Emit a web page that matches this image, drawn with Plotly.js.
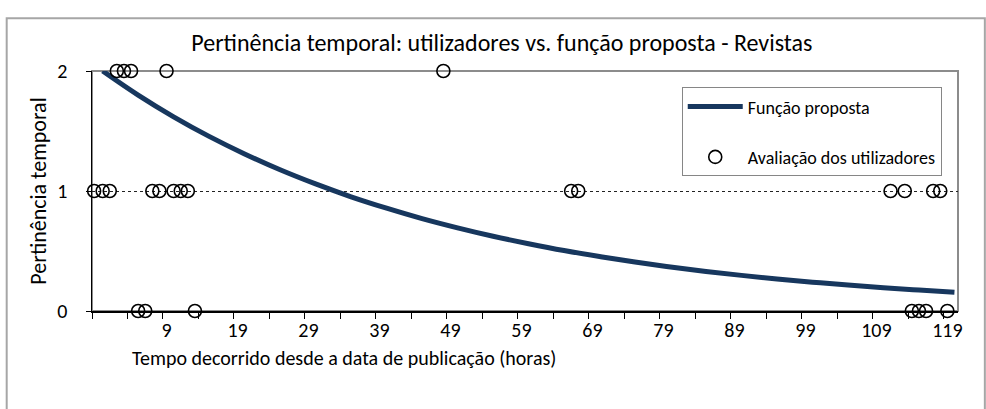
<!DOCTYPE html>
<html><head><meta charset="utf-8">
<script src="https://cdn.plot.ly/plotly-3.0.1.min.js"></script>
<style>html,body{margin:0;padding:0;background:#fff}#chart{width:986px;height:409px}</style>
</head><body><div id="chart"></div>
<script>
// Proposed function
const curveHours  = [0, 5, 10, 15, 20, 25, 30, 35, 40, 45, 50, 55, 60, 65, 70, 75, 80, 85, 90, 95, 100, 105, 110, 115, 120];
const curveValues = [2.000, 1.799, 1.618, 1.455, 1.309, 1.177, 1.059, 0.952, 0.857, 0.770, 0.693, 0.623, 0.561, 0.504, 0.454, 0.408, 0.367, 0.330, 0.297, 0.267, 0.240, 0.216, 0.194, 0.175, 0.157];

// User evaluations
const userHours   = [2, 3, 4, 9, 48,
                     -1.2, 0, 1, 7, 8, 10, 11, 12, 66, 67, 111, 113, 117, 118,
                     5, 6, 13, 114, 115, 116, 119];
const userRatings = [2, 2, 2, 2, 2,
                     1, 1, 1, 1, 1, 1, 1, 1, 1, 1, 1, 1, 1, 1,
                     0, 0, 0, 0, 0, 0, 0];

const xTickVals = [9, 19, 29, 39, 49, 59, 69, 79, 89, 99, 109, 119];
const xTickText = ['9', '19', '29', '39', '49', '59', '69', '79', '89', '99', '109', '119'];
const yTickVals = [0, 1, 2];

const seriesNames = ['Função proposta', 'Avaliação dos utilizadores'];
const chartTitle = 'Pertinência temporal: utilizadores vs. função proposta - Revistas';
const xTitle = 'Tempo decorrido desde a data de publicação (horas)';
const yTitle = 'Pertinência temporal';

const FONT = 'Carlito, Lato, "Noto Sans", sans-serif';

const traces = [
  {
    x: curveHours, y: curveValues, type: 'scatter', mode: 'lines',
    name: seriesNames[0], legendgroup: 'a',
    line: {color: '#17375E', width: 5, shape: 'spline'},
    cliponaxis: false
  },
  {
    x: userHours, y: userRatings, type: 'scatter', mode: 'markers',
    name: seriesNames[1], legendgroup: 'b',
    marker: {symbol: 'circle-open', size: 13, color: '#000', line: {width: 1.6, color: '#000'}},
    cliponaxis: false
  }
];

const layout = {
  width: 986, height: 409,
  margin: {l: 92, r: 28, t: 71, b: 98},
  paper_bgcolor: '#fff', plot_bgcolor: '#fff',
  font: {family: FONT, color: '#000', size: 18},
  title: {text: chartTitle, font: {family: FONT, size: 24, color: '#000'},
          x: 0.509, xref: 'container', xanchor: 'center', y: 0.897, yref: 'container', yanchor: 'middle'},
  xaxis: {
    range: [-1.5, 120.5], showgrid: false, zeroline: false,
    showline: true, linecolor: '#000', linewidth: 1.5,
    tickmode: 'array', tickvals: xTickVals, ticktext: xTickText, ticks: '', ticklen: 0,
    tickfont: {size: 20}, ticklabelstandoff: 0,
    minor: {tickmode: 'linear', tick0: -1.5, dtick: 5, ticks: 'outside', ticklen: 6, tickcolor: '#000', tickwidth: 1, showgrid: false}
  },
  yaxis: {
    range: [0, 2], zeroline: false,
    showline: true, linecolor: '#000', linewidth: 1.5,
    tickmode: 'array', tickvals: yTickVals, ticks: 'outside', ticklen: 5, tickcolor: '#000',
    tickfont: {size: 20}, ticklabelstandoff: 14,
    showgrid: true, gridcolor: '#222', griddash: 'dot', gridwidth: 1,
    title: {text: yTitle, font: {size: 22}, standoff: 4}
  },
  showlegend: true,
  legend: {
    x: 0.681, y: 0.932, xanchor: 'left', yanchor: 'top',
    bgcolor: '#fff', bordercolor: '#868686', borderwidth: 1,
    font: {size: 18, family: FONT}, tracegroupgap: 24, itemwidth: 55, traceorder: 'grouped'
  },
  shapes: [
    {type: 'rect', xref: 'paper', yref: 'paper', x0: 0, x1: 1, y0: 0, y1: 1,
     line: {color: '#8c8c8c', width: 2}, layer: 'between'},
    {type: 'rect', xref: 'paper', yref: 'paper', x0: -0.0985, x1: 1.031, y0: -0.5, y1: 1.22,
     line: {color: '#a6a6a6', width: 2}, layer: 'below'}
  ],
  annotations: [
    {text: xTitle, xref: 'paper', yref: 'paper', x: 0.0435, y: -0.195, xanchor: 'left', yanchor: 'middle',
     showarrow: false, font: {size: 20, family: FONT}}
  ]
};

Plotly.newPlot('chart', traces, layout, {staticPlot: true, displayModeBar: false});
</script>
</body></html>
